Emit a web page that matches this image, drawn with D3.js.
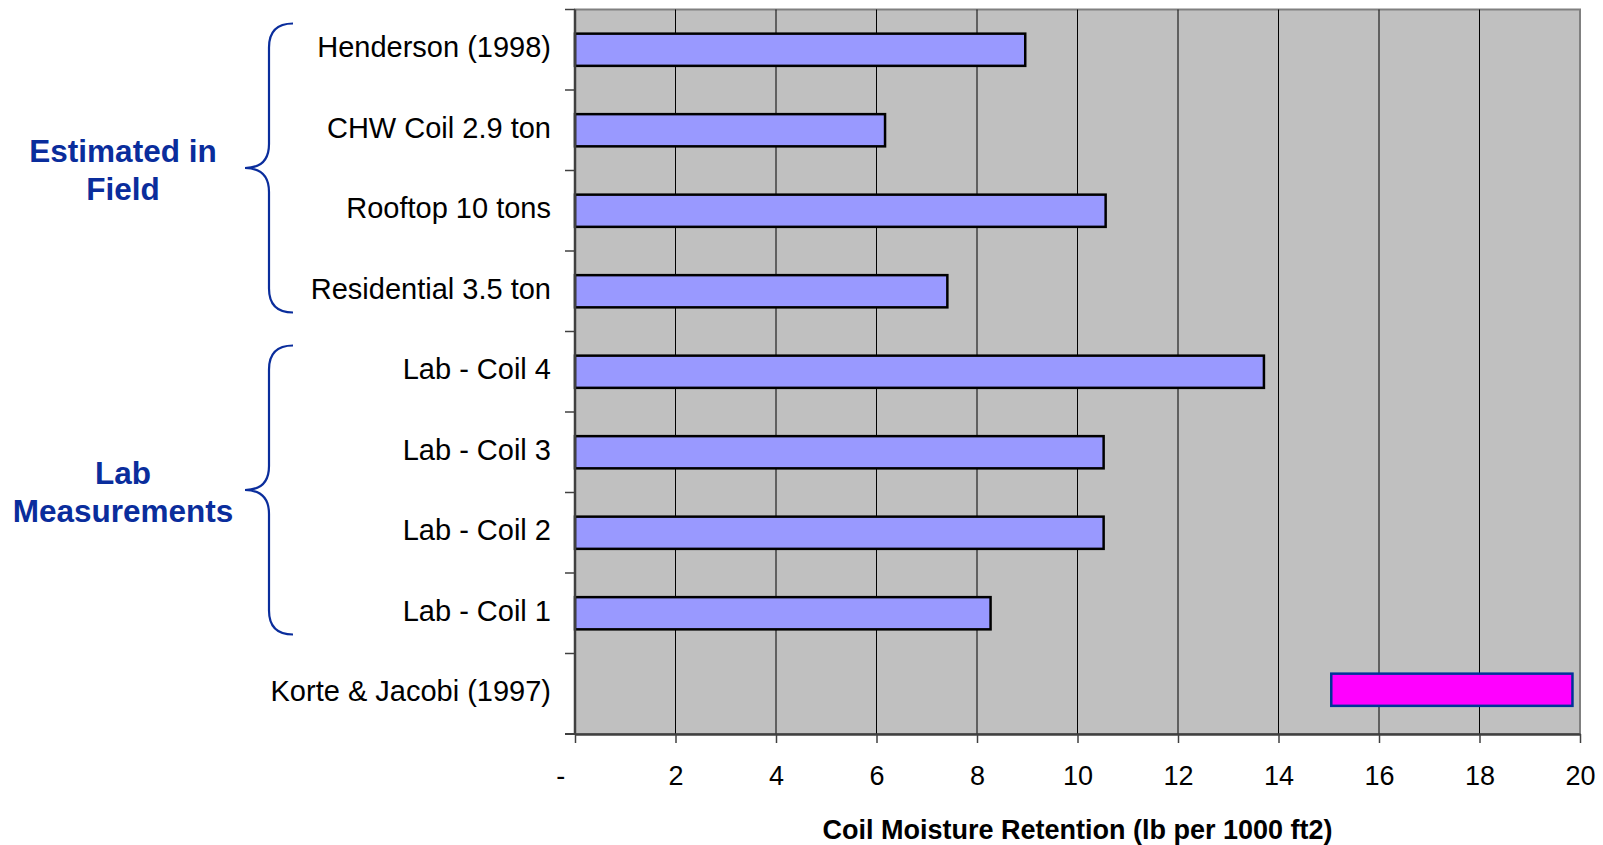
<!DOCTYPE html>
<html>
<head>
<meta charset="utf-8">
<script src="https://d3js.org/d3.v7.min.js"></script>
<style>
  body { margin: 0; background: #fff; }
  svg { display: block; font-family: "Liberation Sans", Arial, sans-serif; }
  .cat text { font-size: 29px; fill: #000; }
  .xAxis text { font-size: 27px; fill: #000; }
  .axisTitle { font-size: 27px; font-weight: bold; }
  .groupLabel { font-size: 31.5px; font-weight: bold; fill: #0a2d9c; }
</style>
</head>
<body>
<div id="chart"></div>
<script>
const categories = ['Henderson (1998)', 'CHW Coil 2.9 ton', 'Rooftop 10 tons', 'Residential 3.5 ton',
  'Lab - Coil 4', 'Lab - Coil 3', 'Lab - Coil 2', 'Lab - Coil 1', 'Korte & Jacobi (1997)'];
// bar start / end in lb per 1000 ft2 (Korte & Jacobi is a range)
const barStart = [0, 0, 0, 0, 0, 0, 0, 0, 15.05];
const barEnd = [8.96, 6.17, 10.56, 7.41, 13.71, 10.52, 10.52, 8.27, 19.85];
const xTicks = [0, 2, 4, 6, 8, 10, 12, 14, 16, 18, 20];
const groups = [
  { lines: ['Estimated in', 'Field'], first: 'Henderson (1998)', last: 'Residential 3.5 ton' },
  { lines: ['Lab', 'Measurements'], first: 'Lab - Coil 4', last: 'Lab - Coil 1' }
];

const width = 1603;
const height = 845;
const margins = { top: 9.5, bottom: 111, left: 575, right: 23 };
const plotW = width - margins.left - margins.right;
const plotH = height - margins.top - margins.bottom;

const svg = d3.select('#chart')
  .append('svg')
  .attr('width', width)
  .attr('height', height);

const xScale = d3.scaleLinear()
  .domain([0, 20])
  .range([0, plotW]);

const yScale = d3.scaleBand()
  .domain(categories)
  .range([0, plotH])
  .paddingInner(0.6)
  .paddingOuter(0.3);

const step = yScale.step();

const plot = svg.append('g')
  .attr('transform', 'translate(' + margins.left + ',' + margins.top + ')');

// plot background + border
plot.append('rect')
  .attr('x', 0).attr('y', 0)
  .attr('width', plotW).attr('height', plotH)
  .style('fill', '#c0c0c0')
  .style('stroke', '#808080')
  .style('stroke-width', 2);

// vertical gridlines
plot.selectAll('line.grid')
  .data(xTicks.slice(1, -1))
  .enter()
  .append('line')
  .attr('class', 'grid')
  .attr('x1', d => xScale(d)).attr('x2', d => xScale(d))
  .attr('y1', 0).attr('y2', plotH)
  .style('stroke', '#000')
  .style('stroke-width', 1);

// bars (the floating range bar sits a little higher in the original)
plot.selectAll('rect.bar')
  .data(categories)
  .enter()
  .append('rect')
  .attr('class', 'bar')
  .attr('x', (d, i) => xScale(barStart[i]))
  .attr('y', (d, i) => yScale(d) - (barStart[i] > 0 ? 4 : 0))
  .attr('width', (d, i) => xScale(barEnd[i]) - xScale(barStart[i]))
  .attr('height', yScale.bandwidth())
  .style('fill', (d, i) => barStart[i] > 0 ? '#ff00ff' : '#9999ff')
  .style('stroke', (d, i) => barStart[i] > 0 ? '#003399' : '#000')
  .style('stroke-width', 2.5);

// x axis
const xAxis = d3.axisBottom(xScale)
  .tickValues(xTicks)
  .tickFormat(d => d === 0 ? '-' : d)
  .tickSizeInner(9)
  .tickSizeOuter(0)
  .tickPadding(23);

const xG = plot.append('g')
  .attr('class', 'xAxis')
  .attr('transform', 'translate(0,' + plotH + ')')
  .call(xAxis);
xG.select('.domain').style('stroke', '#404040').style('stroke-width', 2.5);
xG.selectAll('.tick line').style('stroke', '#404040').style('stroke-width', 1.5);
xG.selectAll('.tick text').attr('dx', d => d === 0 ? '-0.55em' : 0);

// category axis (ticks sit on band boundaries)
plot.append('line')
  .attr('x1', 0).attr('x2', 0)
  .attr('y1', 0).attr('y2', plotH)
  .style('stroke', '#404040')
  .style('stroke-width', 2.5);

plot.selectAll('line.catTick')
  .data(categories)
  .enter()
  .append('line')
  .attr('class', 'catTick')
  .attr('x1', -10).attr('x2', 0)
  .attr('y1', d => yScale(d) - step * yScale.paddingInner() / 2)
  .attr('y2', d => yScale(d) - step * yScale.paddingInner() / 2)
  .style('stroke', '#404040')
  .style('stroke-width', 1.5);

plot.append('line')
  .attr('x1', -10).attr('x2', 0)
  .attr('y1', plotH).attr('y2', plotH)
  .style('stroke', '#404040')
  .style('stroke-width', 2);

plot.append('g')
  .attr('class', 'cat')
  .selectAll('text')
  .data(categories)
  .enter()
  .append('text')
  .text(d => d)
  .attr('x', -24)
  .attr('y', d => yScale(d) + yScale.bandwidth() / 2)
  .attr('dy', '0.26em')
  .style('text-anchor', 'end');

// axis title
svg.append('text')
  .attr('class', 'axisTitle')
  .text('Coil Moisture Retention (lb per 1000 ft2)')
  .attr('x', margins.left + plotW / 2)
  .attr('y', 839)
  .style('text-anchor', 'middle');

// group braces and labels
const braceX = 269;   // vertical stem
const tipX = 245;
const endX = 293;
const curl = 24;

groups.forEach(g => {
  const top = margins.top + yScale(g.first) - step * 0.3 + 14;
  const bot = margins.top + yScale(g.last) + yScale.bandwidth() + step * 0.3 - 19;
  const mid = (top + bot) / 2;
  const path = d3.path();
  path.moveTo(endX, top);
  path.quadraticCurveTo(braceX, top, braceX, top + curl);
  path.lineTo(braceX, mid - curl);
  path.quadraticCurveTo(braceX, mid, tipX, mid);
  path.quadraticCurveTo(braceX, mid, braceX, mid + curl);
  path.lineTo(braceX, bot - curl);
  path.quadraticCurveTo(braceX, bot, endX, bot);
  svg.append('path')
    .attr('d', path.toString())
    .style('fill', 'none')
    .style('stroke', '#0a2d9c')
    .style('stroke-width', 2.2);

  svg.append('text')
    .attr('class', 'groupLabel')
    .attr('x', 123)
    .attr('y', mid - 6)
    .style('text-anchor', 'middle')
    .text(g.lines[0]);
  svg.append('text')
    .attr('class', 'groupLabel')
    .attr('x', 123)
    .attr('y', mid + 32)
    .style('text-anchor', 'middle')
    .text(g.lines[1]);
});
</script>
</body>
</html>
